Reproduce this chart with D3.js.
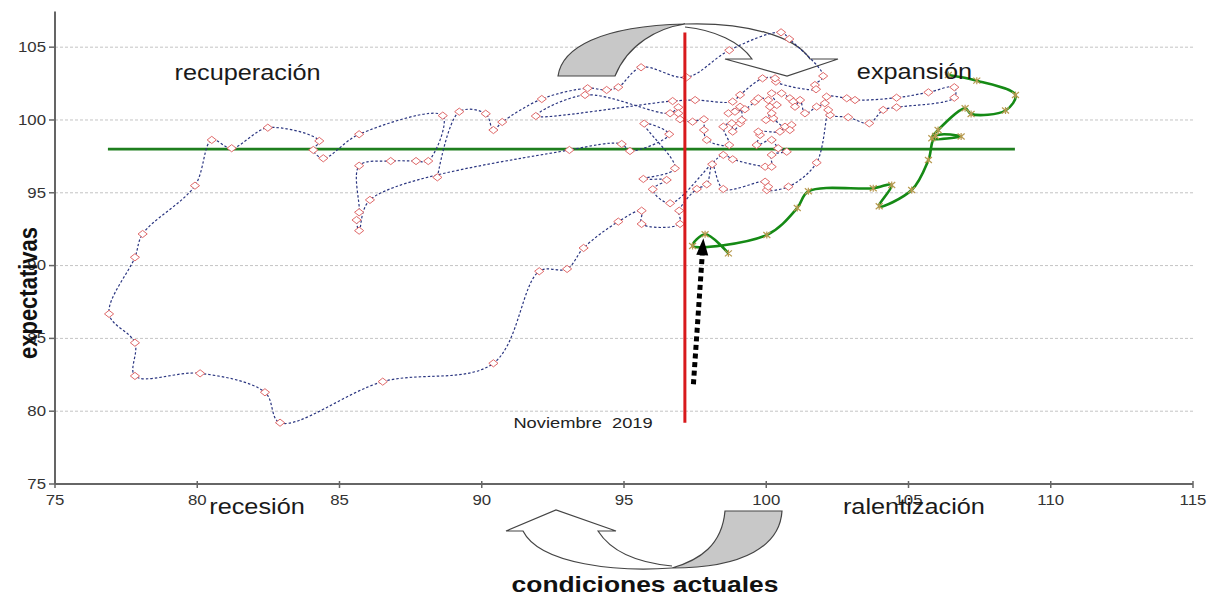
<!DOCTYPE html>
<html><head><meta charset="utf-8">
<script src="https://cdn.jsdelivr.net/npm/d3@7"></script>
<style>body{margin:0;background:#fff}svg{display:block}</style>
</head><body>
<svg id="c" width="1212" height="603"></svg>
<script>
// ---- data ----
const xTicks = [75, 80, 85, 90, 95, 100, 105, 110, 115];
const yTicks = [75, 80, 85, 90, 95, 100, 105];
// historical trajectory (condiciones actuales, expectativas)
const histCond = [88.44,89.21,90.14,90.41,90.72,92.11,93.72,94.39,94.80,95.60,97.20,98.70,100.52,100.81,102.00,101.71,101.75,100.34,100.31,99.87,99.08,98.82,97.50,96.71,91.90,93.63,96.62,96.91,96.91,96.97,97.41,97.81,97.81,97.91,98.70,98.49,98.79,98.82,99.08,99.14,99.08,98.67,98.90,99.25,99.60,99.72,100.07,100.13,100.37,100.19,100.54,100.83,100.95,101.01,101.19,101.36,101.77,102.06,102.12,102.83,103.12,104.58,105.70,106.61,106.61,104.58,104.11,103.62,102.88,102.24,102.18,101.77,100.78,100.02,100.07,99.96,98.49,98.10,97.91,97.56,96.94,96.97,95.62,95.62,94.80,93.58,93.00,92.02,90.41,86.52,82.91,82.38,80.10,77.81,77.81,76.90,77.81,78.08,79.92,80.51,81.21,82.48,84.29,84.08,84.43,85.69,88.63,88.12,87.69,86.80,85.69,85.69,85.60,85.69,86.07,93.08,94.92,95.21,96.59,95.71,96.79,95.68,96.50,96.01,96.62,98.49,98.82,99.96,100.19,100.19,100.72,100.42,100.19,99.66,99.78,99.72,100.48,100.66,100.89,100.83,100.25,100.19,99.99];
const histExp = [96.06,100.57,100.43,99.31,99.86,101.44,102.18,102.06,102.25,103.62,102.93,104.79,106.02,105.56,103.02,102.40,102.11,102.63,102.86,102.86,101.72,101.26,101.37,101.30,100.27,101.72,100.46,100.87,100.46,100.05,99.88,100.05,99.31,98.63,98.28,99.54,99.77,99.20,99.77,100.00,100.91,100.46,100.57,100.74,101.26,101.49,101.37,100.91,101.03,101.83,101.83,101.49,101.26,100.91,101.37,100.46,100.91,101.15,101.60,101.49,101.37,101.53,101.90,102.25,101.53,100.87,100.69,99.77,100.19,100.34,100.69,97.07,95.42,95.19,95.42,95.76,95.26,96.96,95.58,95.26,93.77,92.86,92.86,93.77,93.02,91.21,89.77,89.61,83.29,82.03,79.21,81.30,82.60,82.42,84.70,86.68,90.57,92.17,95.49,98.63,98.06,99.47,98.56,97.94,97.37,99.02,100.30,97.18,97.18,97.18,96.86,93.66,93.13,92.40,94.51,97.94,98.35,97.87,99.02,99.75,96.68,95.95,95.88,95.24,94.28,97.60,97.30,96.79,96.79,97.60,97.82,98.06,98.63,98.28,98.97,99.20,99.20,99.54,99.66,99.31,100.12,100.46,100.00];
// recent trajectory (green)
const recentCond = [106.40,107.40,108.76,108.41,107.20,106.99,106.04,105.82,106.85,105.95,105.70,105.11,103.97,104.41,103.76,101.48,101.09,100.02,97.41,97.85,98.67];
const recentExp  = [103.09,102.70,101.72,100.65,100.41,100.80,99.31,98.74,98.87,98.90,97.25,95.19,94.07,95.54,95.31,95.10,93.96,92.10,91.35,92.15,90.84];
// reference lines
const expThreshold = 98.0, expThresholdFrom = 76.86, expThresholdTo = 108.74;
const novCond = 97.14, novExpFrom = 79.2, novExpTo = 106.0;
const arrowStart = [97.44, 81.85], arrowTip = [97.79, 91.88];
const quadrantLabels = ["recuperación", "expansión", "recesión", "ralentización"];
const quadrantCond = [81.77, 105.21, 82.10, 105.19];
const quadrantExp  = [102.75, 102.82, 72.94, 72.94];
const noteText = "Noviembre  2019", noteCond = 93.56, noteExp = 78.85;
const xTitle = "condiciones actuales", yTitle = "expectativas";

// ---- drawing ----
const svg = d3.select("#c");
const x = d3.scaleLinear().domain([75, 115]).range([55, 1193]);
const y = d3.scaleLinear().domain([75, 107.45]).range([484, 11.5]);
const FONT = "'Liberation Sans', Arial, sans-serif";

function txt(g, px, py, s, o) {
  return g.append("text")
    .attr("transform", `translate(${px},${py}) scale(${o.sx||1.15},1)`)
    .attr("text-anchor", o.anchor || "middle")
    .attr("font-family", FONT)
    .attr("font-size", o.size)
    .attr("font-weight", o.weight || "normal")
    .attr("fill", o.fill || "#222")
    .attr("dy", o.dy || 0)
    .style("white-space", "pre")
    .text(s);
}

// gridlines
svg.append("g").selectAll("line").data(yTicks.filter(d => d > 75)).join("line")
  .attr("x1", x(75)).attr("x2", x(115)).attr("y1", d => y(d)).attr("y2", d => y(d))
  .attr("stroke", "#c4c4c4").attr("stroke-width", 1).attr("stroke-dasharray", "3,2");

// curved arrows (decoration)
const deco = svg.append("g").attr("stroke", "#444").attr("stroke-width", 1.2);
deco.append("path").attr("fill", "#c8c8c8")
  .attr("d", "M558,76 C562,48 600,26 685,24 C658,28 628,44 615,76 Z");
deco.append("path").attr("fill", "none")
  .attr("d", "M685,24 C745,22 795,36 810,59 L838,59 L787,76 L725,59 L752,59 C740,42 715,30 685,27");
deco.append("path").attr("fill", "#c8c8c8")
  .attr("d", "M725,511 L782,511 C780,545 745,568 672,568 C700,560 722,545 725,511 Z");
deco.append("path").attr("fill", "none")
  .attr("d", "M672,568 C620,572 540,565 523,531 L506,531 L556,510 L616,531 L598,531 C612,553 640,563 672,566");

// axes
const ax = svg.append("g");
ax.append("line").attr("x1", x(75)).attr("x2", x(115)).attr("y1", y(75)).attr("y2", y(75))
  .attr("stroke", "#666").attr("stroke-width", 1.8);
ax.append("line").attr("x1", x(75)).attr("x2", x(75)).attr("y1", y(75)).attr("y2", y(107.45))
  .attr("stroke", "#555").attr("stroke-width", 1.8);
ax.selectAll(".xt").data(xTicks).join("line").attr("class", "xt")
  .attr("x1", d => x(d)).attr("x2", d => x(d)).attr("y1", y(75) - 3).attr("y2", y(75) + 4)
  .attr("stroke", "#666").attr("stroke-width", 1.5);
ax.selectAll(".yt").data(yTicks).join("line").attr("class", "yt")
  .attr("x1", x(75) - 6).attr("x2", x(75)).attr("y1", d => y(d)).attr("y2", d => y(d))
  .attr("stroke", "#666").attr("stroke-width", 1.5);
xTicks.forEach(d => txt(ax, x(d), y(75) + 21, String(d), {size: 14, sx: 1.2, fill: "#333"}));
yTicks.forEach(d => txt(ax, x(75) - 9, y(d), String(d), {size: 14, sx: 1.2, fill: "#333", anchor: "end", dy: "0.35em"}));

// threshold line (green horizontal)
svg.append("line").attr("x1", x(expThresholdFrom)).attr("x2", x(expThresholdTo))
  .attr("y1", y(expThreshold)).attr("y2", y(expThreshold))
  .attr("stroke", "#1e7e1e").attr("stroke-width", 2.6);

// historical series
const hist = histCond.map((c, i) => [c, histExp[i]]);
const line = d3.line().x(d => x(d[0])).y(d => y(d[1])).curve(d3.curveCatmullRom.alpha(0.5));
svg.append("path").datum(hist).attr("d", line).attr("fill", "none")
  .attr("stroke", "#2a3580").attr("stroke-width", 1.2).attr("stroke-dasharray", "2.5,2");
svg.append("g").selectAll("path").data(hist).join("path")
  .attr("transform", d => `translate(${x(d[0])},${y(d[1])})`)
  .attr("d", "M0,-3.6L4.6,0L0,3.6L-4.6,0Z")
  .attr("fill", "#fff").attr("stroke", "#e06a6a").attr("stroke-width", 1);

// red vertical line
svg.append("line").attr("x1", x(novCond)).attr("x2", x(novCond))
  .attr("y1", y(novExpFrom)).attr("y2", y(novExpTo))
  .attr("stroke", "#d8191c").attr("stroke-width", 3);

// recent series (green)
const rec = recentCond.map((c, i) => [c, recentExp[i]]);
svg.append("path").datum(rec).attr("d", line).attr("fill", "none")
  .attr("stroke", "#158a15").attr("stroke-width", 2.6).attr("stroke-linejoin", "round");
svg.append("g").selectAll("path").data(rec).join("path")
  .attr("transform", d => `translate(${x(d[0])},${y(d[1])})`)
  .attr("d", "M-3.5,-3L3.5,3M-3.5,3L3.5,-3M0,-3.5L0,3.5")
  .attr("stroke", "#b89a50").attr("stroke-width", 1.2).attr("fill", "none");

// black dotted arrow
const ah = svg.append("g");
const sx0 = x(arrowStart[0]), sy0 = y(arrowStart[1]), tx = x(arrowTip[0]), ty = y(arrowTip[1]);
const ang = Math.atan2(ty - sy0, tx - sx0);
const hb = 17; // head length
const bx = tx - hb * Math.cos(ang), by = ty - hb * Math.sin(ang);
ah.append("line").attr("x1", sx0).attr("y1", sy0).attr("x2", bx).attr("y2", by)
  .attr("stroke", "#000").attr("stroke-width", 5).attr("stroke-dasharray", "5,3.6");
const nx = -Math.sin(ang), ny = Math.cos(ang);
ah.append("path").attr("fill", "#000")
  .attr("d", `M${tx},${ty}L${bx + 6 * nx},${by + 6 * ny}L${bx - 6 * nx},${by - 6 * ny}Z`);

// labels
const lab = svg.append("g");
quadrantLabels.forEach((s, i) => txt(lab, x(quadrantCond[i]), y(quadrantExp[i]), s, {size: 22, sx: 1.15, fill: "#1a1a1a"}));
txt(lab, x(noteCond), y(noteExp), noteText, {size: 15, sx: 1.22, fill: "#222"});
txt(lab, 645, 592, xTitle, {size: 22, sx: 1.2, weight: "bold", fill: "#111"});
lab.append("text")
  .attr("transform", "translate(37,293) scale(1.2,1) rotate(-90)")
  .attr("text-anchor", "middle").attr("font-family", FONT).attr("font-size", 22)
  .attr("font-weight", "bold").attr("fill", "#111").text(yTitle);
</script>
</body></html>
